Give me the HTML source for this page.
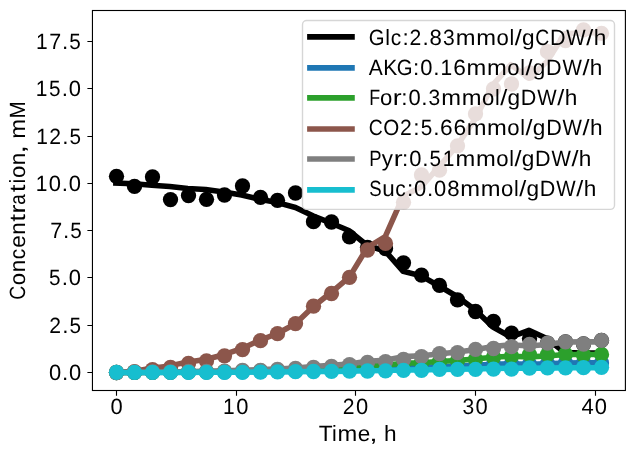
<!DOCTYPE html>
<html><head><meta charset="utf-8"><style>html,body{margin:0;padding:0;background:#fff;}svg{display:block;will-change:transform;}text{font-family:"Liberation Sans",sans-serif;text-rendering:geometricPrecision;}</style></head>
<body><svg width="634" height="455" viewBox="0 0 634 455" font-family="Liberation Sans, sans-serif">
<rect width="634" height="455" fill="#fff"/>
<defs><clipPath id="ax"><rect x="92.45" y="10.5" width="532.95" height="380"/></clipPath></defs><g clip-path="url(#ax)"><polyline points="115.90,183.10 133.86,183.70 151.81,185.20 169.77,186.40 187.72,188.40 205.68,189.60 223.63,192.00 241.59,195.00 259.54,199.20 277.50,202.60 295.45,207.50 313.41,216.10 331.36,223.20 349.32,230.80 367.27,245.50 385.23,251.00 403.18,271.30 421.13,275.90 439.09,286.00 457.05,296.50 475.00,309.80 492.96,327.00 510.91,337.00 528.87,330.30 546.82,338.50 564.77,352.50 582.73,353.00 600.69,353.00" fill="none" stroke="#000000" stroke-width="5.56" stroke-linejoin="round" stroke-linecap="square"/><g fill="#000000"><circle cx="116.50" cy="176.30" r="7.65"/><circle cx="134.50" cy="186.40" r="7.65"/><circle cx="152.50" cy="177.00" r="7.65"/><circle cx="170.50" cy="199.60" r="7.65"/><circle cx="188.50" cy="195.60" r="7.65"/><circle cx="206.50" cy="199.30" r="7.65"/><circle cx="224.50" cy="195.00" r="7.65"/><circle cx="242.50" cy="186.00" r="7.65"/><circle cx="260.50" cy="197.30" r="7.65"/><circle cx="277.50" cy="200.30" r="7.65"/><circle cx="295.50" cy="193.00" r="7.65"/><circle cx="313.50" cy="221.70" r="7.65"/><circle cx="331.50" cy="222.00" r="7.65"/><circle cx="349.50" cy="236.80" r="7.65"/><circle cx="367.50" cy="247.40" r="7.65"/><circle cx="385.50" cy="248.60" r="7.65"/><circle cx="403.50" cy="262.80" r="7.65"/><circle cx="421.50" cy="275.10" r="7.65"/><circle cx="439.50" cy="285.40" r="7.65"/><circle cx="457.50" cy="299.80" r="7.65"/><circle cx="475.50" cy="311.50" r="7.65"/><circle cx="493.50" cy="321.40" r="7.65"/><circle cx="511.50" cy="333.20" r="7.65"/><circle cx="529.50" cy="338.50" r="7.65"/><circle cx="547.50" cy="343.20" r="7.65"/><circle cx="565.50" cy="341.90" r="7.65"/><circle cx="583.50" cy="344.00" r="7.65"/><circle cx="601.50" cy="340.40" r="7.65"/></g><polyline points="115.90,372.50 133.86,372.47 151.81,372.38 169.77,372.31 187.72,372.20 205.68,372.13 223.63,372.00 241.59,371.83 259.54,371.59 277.50,371.40 295.45,371.12 313.41,370.63 331.36,370.23 349.32,369.80 367.27,368.97 385.23,368.66 403.18,367.51 421.13,367.25 439.09,366.68 457.05,366.09 475.00,365.34 492.96,364.36 510.91,363.80 528.87,364.18 546.82,363.71 564.77,362.92 582.73,362.89 600.69,362.89" fill="none" stroke="#1f77b4" stroke-width="5.56" stroke-linejoin="round" stroke-linecap="square"/><g fill="#1f77b4"><circle cx="116.50" cy="372.50" r="7.65"/><circle cx="134.50" cy="372.47" r="7.65"/><circle cx="152.50" cy="372.38" r="7.65"/><circle cx="170.50" cy="372.31" r="7.65"/><circle cx="188.50" cy="372.20" r="7.65"/><circle cx="206.50" cy="372.13" r="7.65"/><circle cx="224.50" cy="372.00" r="7.65"/><circle cx="242.50" cy="371.83" r="7.65"/><circle cx="260.50" cy="371.59" r="7.65"/><circle cx="277.50" cy="371.40" r="7.65"/><circle cx="295.50" cy="371.12" r="7.65"/><circle cx="313.50" cy="370.63" r="7.65"/><circle cx="331.50" cy="370.23" r="7.65"/><circle cx="349.50" cy="369.80" r="7.65"/><circle cx="367.50" cy="368.97" r="7.65"/><circle cx="385.50" cy="368.66" r="7.65"/><circle cx="403.50" cy="367.51" r="7.65"/><circle cx="421.50" cy="367.25" r="7.65"/><circle cx="439.50" cy="366.68" r="7.65"/><circle cx="457.50" cy="366.09" r="7.65"/><circle cx="475.50" cy="365.34" r="7.65"/><circle cx="493.50" cy="364.36" r="7.65"/><circle cx="511.50" cy="363.80" r="7.65"/><circle cx="529.50" cy="364.18" r="7.65"/><circle cx="547.50" cy="363.71" r="7.65"/><circle cx="565.50" cy="362.92" r="7.65"/><circle cx="583.50" cy="362.89" r="7.65"/><circle cx="601.50" cy="362.89" r="7.65"/></g><polyline points="115.90,372.50 133.86,372.44 151.81,372.28 169.77,372.15 187.72,371.94 205.68,371.81 223.63,371.56 241.59,371.24 259.54,370.79 277.50,370.43 295.45,369.91 313.41,369.00 331.36,368.25 349.32,367.44 367.27,365.89 385.23,365.30 403.18,363.15 421.13,362.66 439.09,361.59 457.05,360.48 475.00,359.07 492.96,357.25 510.91,356.19 528.87,356.90 546.82,356.03 564.77,354.54 582.73,354.49 600.69,354.49" fill="none" stroke="#2ca02c" stroke-width="5.56" stroke-linejoin="round" stroke-linecap="square"/><g fill="#2ca02c"><circle cx="116.50" cy="372.50" r="7.65"/><circle cx="134.50" cy="372.44" r="7.65"/><circle cx="152.50" cy="372.28" r="7.65"/><circle cx="170.50" cy="372.15" r="7.65"/><circle cx="188.50" cy="371.94" r="7.65"/><circle cx="206.50" cy="371.81" r="7.65"/><circle cx="224.50" cy="371.56" r="7.65"/><circle cx="242.50" cy="371.24" r="7.65"/><circle cx="260.50" cy="370.79" r="7.65"/><circle cx="277.50" cy="370.43" r="7.65"/><circle cx="295.50" cy="369.91" r="7.65"/><circle cx="313.50" cy="369.00" r="7.65"/><circle cx="331.50" cy="368.25" r="7.65"/><circle cx="349.50" cy="367.44" r="7.65"/><circle cx="367.50" cy="365.89" r="7.65"/><circle cx="385.50" cy="365.30" r="7.65"/><circle cx="403.50" cy="363.15" r="7.65"/><circle cx="421.50" cy="362.66" r="7.65"/><circle cx="439.50" cy="361.59" r="7.65"/><circle cx="457.50" cy="360.48" r="7.65"/><circle cx="475.50" cy="359.07" r="7.65"/><circle cx="493.50" cy="357.25" r="7.65"/><circle cx="511.50" cy="356.19" r="7.65"/><circle cx="529.50" cy="354.70" r="7.65"/><circle cx="547.50" cy="354.70" r="7.65"/><circle cx="565.50" cy="354.20" r="7.65"/><circle cx="583.50" cy="355.00" r="7.65"/><circle cx="601.50" cy="354.40" r="7.65"/></g><polyline points="115.90,372.50 133.86,371.30 151.81,368.30 169.77,365.90 187.72,361.90 205.68,359.50 223.63,354.70 241.59,348.70 259.54,340.30 277.50,333.50 295.45,323.70 313.41,306.50 331.36,292.30 349.32,277.10 367.27,247.70 385.23,236.70 403.18,196.10 421.13,186.90 439.09,166.70 457.05,145.70 475.00,119.10 492.96,84.70 510.91,64.70 528.87,78.10 546.82,61.70 564.77,33.70 582.73,32.70 600.69,32.70" fill="none" stroke="#8c564b" stroke-width="5.56" stroke-linejoin="round" stroke-linecap="square"/><g fill="#8c564b"><circle cx="116.50" cy="372.50" r="7.65"/><circle cx="134.50" cy="371.60" r="7.65"/><circle cx="152.50" cy="369.70" r="7.65"/><circle cx="170.50" cy="367.50" r="7.65"/><circle cx="188.50" cy="363.40" r="7.65"/><circle cx="206.50" cy="360.90" r="7.65"/><circle cx="224.50" cy="355.80" r="7.65"/><circle cx="242.50" cy="349.60" r="7.65"/><circle cx="260.50" cy="340.70" r="7.65"/><circle cx="277.50" cy="333.70" r="7.65"/><circle cx="295.50" cy="323.60" r="7.65"/><circle cx="313.50" cy="306.20" r="7.65"/><circle cx="331.50" cy="293.50" r="7.65"/><circle cx="349.50" cy="277.30" r="7.65"/><circle cx="367.50" cy="250.00" r="7.65"/><circle cx="385.50" cy="243.40" r="7.65"/><circle cx="403.50" cy="202.30" r="7.65"/><circle cx="421.50" cy="175.00" r="7.65"/><circle cx="439.50" cy="170.20" r="7.65"/><circle cx="457.50" cy="145.80" r="7.65"/><circle cx="475.50" cy="113.80" r="7.65"/><circle cx="493.50" cy="89.00" r="7.65"/><circle cx="511.50" cy="84.00" r="7.65"/><circle cx="529.50" cy="73.00" r="7.65"/><circle cx="547.50" cy="51.70" r="7.65"/><circle cx="565.50" cy="40.70" r="7.65"/><circle cx="583.50" cy="29.80" r="7.65"/><circle cx="601.50" cy="33.30" r="7.65"/></g><polyline points="115.90,372.50 133.86,372.39 151.81,372.12 169.77,371.91 187.72,371.54 205.68,371.33 223.63,370.90 241.59,370.36 259.54,369.60 277.50,368.99 295.45,368.10 313.41,366.55 331.36,365.27 349.32,363.90 367.27,361.25 385.23,360.26 403.18,356.61 421.13,355.78 439.09,353.96 457.05,352.06 475.00,349.67 492.96,346.57 510.91,344.77 528.87,345.97 546.82,344.50 564.77,341.97 582.73,341.88 600.69,341.88" fill="none" stroke="#7f7f7f" stroke-width="5.56" stroke-linejoin="round" stroke-linecap="square"/><g fill="#7f7f7f"><circle cx="116.50" cy="372.50" r="7.65"/><circle cx="134.50" cy="372.20" r="7.65"/><circle cx="152.50" cy="372.00" r="7.65"/><circle cx="170.50" cy="371.80" r="7.65"/><circle cx="188.50" cy="371.50" r="7.65"/><circle cx="206.50" cy="371.40" r="7.65"/><circle cx="224.50" cy="371.10" r="7.65"/><circle cx="242.50" cy="370.50" r="7.65"/><circle cx="260.50" cy="370.50" r="7.65"/><circle cx="277.50" cy="369.50" r="7.65"/><circle cx="295.50" cy="368.40" r="7.65"/><circle cx="313.50" cy="367.40" r="7.65"/><circle cx="331.50" cy="366.30" r="7.65"/><circle cx="349.50" cy="364.60" r="7.65"/><circle cx="367.50" cy="362.40" r="7.65"/><circle cx="385.50" cy="361.60" r="7.65"/><circle cx="403.50" cy="359.50" r="7.65"/><circle cx="421.50" cy="356.60" r="7.65"/><circle cx="439.50" cy="353.60" r="7.65"/><circle cx="457.50" cy="352.60" r="7.65"/><circle cx="475.50" cy="349.40" r="7.65"/><circle cx="493.50" cy="348.50" r="7.65"/><circle cx="511.50" cy="346.70" r="7.65"/><circle cx="529.50" cy="344.40" r="7.65"/><circle cx="547.50" cy="343.20" r="7.65"/><circle cx="565.50" cy="341.90" r="7.65"/><circle cx="583.50" cy="344.00" r="7.65"/><circle cx="601.50" cy="340.40" r="7.65"/></g><polyline points="115.90,372.50 133.86,372.48 151.81,372.44 169.77,372.41 187.72,372.35 205.68,372.32 223.63,372.25 241.59,372.16 259.54,372.04 277.50,371.95 295.45,371.81 313.41,371.57 331.36,371.37 349.32,371.15 367.27,370.74 385.23,370.58 403.18,370.01 421.13,369.88 439.09,369.59 457.05,369.29 475.00,368.92 492.96,368.43 510.91,368.15 528.87,368.34 546.82,368.11 564.77,367.71 582.73,367.70 600.69,367.70" fill="none" stroke="#17becf" stroke-width="5.56" stroke-linejoin="round" stroke-linecap="square"/><g fill="#17becf"><circle cx="116.50" cy="372.30" r="7.65"/><circle cx="134.50" cy="372.30" r="7.65"/><circle cx="152.50" cy="372.30" r="7.65"/><circle cx="170.50" cy="372.30" r="7.65"/><circle cx="188.50" cy="372.30" r="7.65"/><circle cx="206.50" cy="372.30" r="7.65"/><circle cx="224.50" cy="372.30" r="7.65"/><circle cx="242.50" cy="372.30" r="7.65"/><circle cx="260.50" cy="372.10" r="7.65"/><circle cx="277.50" cy="371.90" r="7.65"/><circle cx="295.50" cy="371.70" r="7.65"/><circle cx="313.50" cy="371.50" r="7.65"/><circle cx="331.50" cy="371.40" r="7.65"/><circle cx="349.50" cy="371.00" r="7.65"/><circle cx="367.50" cy="371.00" r="7.65"/><circle cx="385.50" cy="370.90" r="7.65"/><circle cx="403.50" cy="370.40" r="7.65"/><circle cx="421.50" cy="370.40" r="7.65"/><circle cx="439.50" cy="369.40" r="7.65"/><circle cx="457.50" cy="369.30" r="7.65"/><circle cx="475.50" cy="369.30" r="7.65"/><circle cx="493.50" cy="369.20" r="7.65"/><circle cx="511.50" cy="369.20" r="7.65"/><circle cx="529.50" cy="368.00" r="7.65"/><circle cx="547.50" cy="367.80" r="7.65"/><circle cx="565.50" cy="367.80" r="7.65"/><circle cx="583.50" cy="367.70" r="7.65"/><circle cx="601.50" cy="367.30" r="7.65"/></g></g><rect x="92.45" y="10.5" width="532.95" height="380" fill="none" stroke="#000" stroke-width="1.11" stroke-linecap="square"/><path d="M116.50,390.5V395.8 M236.50,390.5V395.8 M355.50,390.5V395.8 M475.50,390.5V395.8 M595.50,390.5V395.8 M92.45,372.50H87.4 M92.45,325.50H87.4 M92.45,277.50H87.4 M92.45,230.50H87.4 M92.45,183.50H87.4 M92.45,136.50H87.4 M92.45,88.50H87.4 M92.45,41.50H87.4" stroke="#000" stroke-width="1.11" fill="none"/>
<text y="414.40" font-size="22.07" fill="#000"><tspan x="110.49" textLength="12.21" lengthAdjust="spacingAndGlyphs">0</tspan></text><text y="414.40" font-size="22.07" fill="#000"><tspan x="223.02" textLength="11.67" lengthAdjust="spacingAndGlyphs">1</tspan><tspan x="236.13" textLength="12.21" lengthAdjust="spacingAndGlyphs">0</tspan></text><text y="414.40" font-size="22.07" fill="#000"><tspan x="342.77" textLength="11.77" lengthAdjust="spacingAndGlyphs">2</tspan><tspan x="356.11" textLength="12.21" lengthAdjust="spacingAndGlyphs">0</tspan></text><text y="414.40" font-size="22.07" fill="#000"><tspan x="462.41" textLength="11.73" lengthAdjust="spacingAndGlyphs">3</tspan><tspan x="475.43" textLength="12.21" lengthAdjust="spacingAndGlyphs">0</tspan></text><text y="414.40" font-size="22.07" fill="#000"><tspan x="581.58" textLength="12.22" lengthAdjust="spacingAndGlyphs">4</tspan><tspan x="594.86" textLength="12.21" lengthAdjust="spacingAndGlyphs">0</tspan></text><text y="379.70" font-size="22.07" fill="#000"><tspan x="48.96" textLength="12.21" lengthAdjust="spacingAndGlyphs">0</tspan><tspan x="61.90" textLength="6.26" lengthAdjust="spacingAndGlyphs">.</tspan><tspan x="68.88" textLength="12.21" lengthAdjust="spacingAndGlyphs">0</tspan></text><text y="332.70" font-size="22.07" fill="#000"><tspan x="49.21" textLength="11.77" lengthAdjust="spacingAndGlyphs">2</tspan><tspan x="62.20" textLength="6.26" lengthAdjust="spacingAndGlyphs">.</tspan><tspan x="69.44" textLength="11.53" lengthAdjust="spacingAndGlyphs">5</tspan></text><text y="284.70" font-size="22.07" fill="#000"><tspan x="49.09" textLength="11.53" lengthAdjust="spacingAndGlyphs">5</tspan><tspan x="61.76" textLength="6.26" lengthAdjust="spacingAndGlyphs">.</tspan><tspan x="68.74" textLength="12.21" lengthAdjust="spacingAndGlyphs">0</tspan></text><text y="237.70" font-size="22.07" fill="#000"><tspan x="50.13" textLength="11.95" lengthAdjust="spacingAndGlyphs">7</tspan><tspan x="62.97" textLength="6.26" lengthAdjust="spacingAndGlyphs">.</tspan><tspan x="70.21" textLength="11.53" lengthAdjust="spacingAndGlyphs">5</tspan></text><text y="190.70" font-size="22.07" fill="#000"><tspan x="35.74" textLength="11.67" lengthAdjust="spacingAndGlyphs">1</tspan><tspan x="48.85" textLength="12.21" lengthAdjust="spacingAndGlyphs">0</tspan><tspan x="61.78" textLength="6.26" lengthAdjust="spacingAndGlyphs">.</tspan><tspan x="68.76" textLength="12.21" lengthAdjust="spacingAndGlyphs">0</tspan></text><text y="143.70" font-size="22.07" fill="#000"><tspan x="36.16" textLength="11.67" lengthAdjust="spacingAndGlyphs">1</tspan><tspan x="49.21" textLength="11.77" lengthAdjust="spacingAndGlyphs">2</tspan><tspan x="62.20" textLength="6.26" lengthAdjust="spacingAndGlyphs">.</tspan><tspan x="69.44" textLength="11.53" lengthAdjust="spacingAndGlyphs">5</tspan></text><text y="95.70" font-size="22.07" fill="#000"><tspan x="35.72" textLength="11.67" lengthAdjust="spacingAndGlyphs">1</tspan><tspan x="49.09" textLength="11.53" lengthAdjust="spacingAndGlyphs">5</tspan><tspan x="61.76" textLength="6.26" lengthAdjust="spacingAndGlyphs">.</tspan><tspan x="68.74" textLength="12.21" lengthAdjust="spacingAndGlyphs">0</tspan></text><text y="48.70" font-size="22.07" fill="#000"><tspan x="35.93" textLength="11.67" lengthAdjust="spacingAndGlyphs">1</tspan><tspan x="49.13" textLength="11.95" lengthAdjust="spacingAndGlyphs">7</tspan><tspan x="61.97" textLength="6.26" lengthAdjust="spacingAndGlyphs">.</tspan><tspan x="69.22" textLength="11.53" lengthAdjust="spacingAndGlyphs">5</tspan></text><text y="440.55" font-size="22.07" fill="#000"><tspan x="318.73" textLength="13.88" lengthAdjust="spacingAndGlyphs">T</tspan><tspan x="331.97" textLength="4.73" lengthAdjust="spacingAndGlyphs">i</tspan><tspan x="337.54" textLength="19.77" lengthAdjust="spacingAndGlyphs">m</tspan><tspan x="357.76" textLength="12.51" lengthAdjust="spacingAndGlyphs">e</tspan><tspan x="369.28" textLength="8.44" lengthAdjust="spacingAndGlyphs">,</tspan><tspan x="383.72"> </tspan><tspan x="384.00" textLength="12.58" lengthAdjust="spacingAndGlyphs">h</tspan></text><text transform="translate(24.70,299.10) rotate(-90)" y="0.00" font-size="22.07" fill="#000"><tspan x="-0.71" textLength="13.97" lengthAdjust="spacingAndGlyphs">C</tspan><tspan x="13.90" textLength="12.32" lengthAdjust="spacingAndGlyphs">o</tspan><tspan x="26.85" textLength="12.49" lengthAdjust="spacingAndGlyphs">n</tspan><tspan x="39.94" textLength="10.45" lengthAdjust="spacingAndGlyphs">c</tspan><tspan x="51.35" textLength="12.51" lengthAdjust="spacingAndGlyphs">e</tspan><tspan x="64.40" textLength="12.49" lengthAdjust="spacingAndGlyphs">n</tspan><tspan x="77.37" textLength="7.74" lengthAdjust="spacingAndGlyphs">t</tspan><tspan x="85.54" textLength="8.89" lengthAdjust="spacingAndGlyphs">r</tspan><tspan x="94.46" textLength="10.42" lengthAdjust="spacingAndGlyphs">a</tspan><tspan x="106.93" textLength="7.74" lengthAdjust="spacingAndGlyphs">t</tspan><tspan x="115.52" textLength="4.73" lengthAdjust="spacingAndGlyphs">i</tspan><tspan x="121.00" textLength="12.32" lengthAdjust="spacingAndGlyphs">o</tspan><tspan x="133.95" textLength="12.49" lengthAdjust="spacingAndGlyphs">n</tspan><tspan x="145.66" textLength="8.44" lengthAdjust="spacingAndGlyphs">,</tspan><tspan x="160.10"> </tspan><tspan x="160.37" textLength="19.77" lengthAdjust="spacingAndGlyphs">m</tspan><tspan x="180.73" textLength="17.30" lengthAdjust="spacingAndGlyphs">M</tspan></text>
<rect x="302.5" y="20.5" width="312.0" height="188.9" rx="4.17" ry="4.17" fill="#fff" fill-opacity="0.8" stroke="#cccccc" stroke-opacity="0.8" stroke-width="1.39"/><path d="M309.9,36.9H352.0" stroke="#000000" stroke-width="5.56" stroke-linecap="square"/><text y="44.60" font-size="22.07" fill="#000"><tspan x="368.75" textLength="15.80" lengthAdjust="spacingAndGlyphs">G</tspan><tspan x="385.30" textLength="4.73" lengthAdjust="spacingAndGlyphs">l</tspan><tspan x="390.84" textLength="10.45" lengthAdjust="spacingAndGlyphs">c</tspan><tspan x="402.44" textLength="6.26" lengthAdjust="spacingAndGlyphs">:</tspan><tspan x="409.55" textLength="11.77" lengthAdjust="spacingAndGlyphs">2</tspan><tspan x="422.54" textLength="6.26" lengthAdjust="spacingAndGlyphs">.</tspan><tspan x="429.45" textLength="12.35" lengthAdjust="spacingAndGlyphs">8</tspan><tspan x="443.07" textLength="11.73" lengthAdjust="spacingAndGlyphs">3</tspan><tspan x="455.88" textLength="19.77" lengthAdjust="spacingAndGlyphs">m</tspan><tspan x="476.22" textLength="19.77" lengthAdjust="spacingAndGlyphs">m</tspan><tspan x="496.45" textLength="12.32" lengthAdjust="spacingAndGlyphs">o</tspan><tspan x="509.54" textLength="4.73" lengthAdjust="spacingAndGlyphs">l</tspan><tspan x="514.81" textLength="7.02" lengthAdjust="spacingAndGlyphs">/</tspan><tspan x="522.04" textLength="12.59" lengthAdjust="spacingAndGlyphs">g</tspan><tspan x="535.28" textLength="13.97" lengthAdjust="spacingAndGlyphs">C</tspan><tspan x="549.94" textLength="15.57" lengthAdjust="spacingAndGlyphs">D</tspan><tspan x="566.34" textLength="19.39" lengthAdjust="spacingAndGlyphs">W</tspan><tspan x="586.38" textLength="7.02" lengthAdjust="spacingAndGlyphs">/</tspan><tspan x="593.74" textLength="12.58" lengthAdjust="spacingAndGlyphs">h</tspan></text><path d="M309.9,67.9H352.0" stroke="#1f77b4" stroke-width="5.56" stroke-linecap="square"/><text y="74.50" font-size="22.07" fill="#000"><tspan x="368.72" textLength="14.00" lengthAdjust="spacingAndGlyphs">A</tspan><tspan x="383.20" textLength="14.01" lengthAdjust="spacingAndGlyphs">K</tspan><tspan x="396.72" textLength="15.80" lengthAdjust="spacingAndGlyphs">G</tspan><tspan x="413.13" textLength="6.26" lengthAdjust="spacingAndGlyphs">:</tspan><tspan x="420.29" textLength="12.21" lengthAdjust="spacingAndGlyphs">0</tspan><tspan x="433.23" textLength="6.26" lengthAdjust="spacingAndGlyphs">.</tspan><tspan x="440.39" textLength="11.67" lengthAdjust="spacingAndGlyphs">1</tspan><tspan x="453.28" textLength="12.64" lengthAdjust="spacingAndGlyphs">6</tspan><tspan x="466.57" textLength="19.77" lengthAdjust="spacingAndGlyphs">m</tspan><tspan x="486.91" textLength="19.77" lengthAdjust="spacingAndGlyphs">m</tspan><tspan x="507.15" textLength="12.32" lengthAdjust="spacingAndGlyphs">o</tspan><tspan x="520.23" textLength="4.73" lengthAdjust="spacingAndGlyphs">l</tspan><tspan x="525.50" textLength="7.02" lengthAdjust="spacingAndGlyphs">/</tspan><tspan x="532.73" textLength="12.59" lengthAdjust="spacingAndGlyphs">g</tspan><tspan x="546.06" textLength="15.57" lengthAdjust="spacingAndGlyphs">D</tspan><tspan x="562.46" textLength="19.39" lengthAdjust="spacingAndGlyphs">W</tspan><tspan x="582.50" textLength="7.02" lengthAdjust="spacingAndGlyphs">/</tspan><tspan x="589.85" textLength="12.58" lengthAdjust="spacingAndGlyphs">h</tspan></text><path d="M309.9,97.85H352.0" stroke="#2ca02c" stroke-width="5.56" stroke-linecap="square"/><text y="105.30" font-size="22.07" fill="#000"><tspan x="369.18" textLength="10.91" lengthAdjust="spacingAndGlyphs">F</tspan><tspan x="380.08" textLength="12.32" lengthAdjust="spacingAndGlyphs">o</tspan><tspan x="392.75" textLength="8.89" lengthAdjust="spacingAndGlyphs">r</tspan><tspan x="401.22" textLength="6.26" lengthAdjust="spacingAndGlyphs">:</tspan><tspan x="408.38" textLength="12.21" lengthAdjust="spacingAndGlyphs">0</tspan><tspan x="421.32" textLength="6.26" lengthAdjust="spacingAndGlyphs">.</tspan><tspan x="428.57" textLength="11.73" lengthAdjust="spacingAndGlyphs">3</tspan><tspan x="441.38" textLength="19.77" lengthAdjust="spacingAndGlyphs">m</tspan><tspan x="461.72" textLength="19.77" lengthAdjust="spacingAndGlyphs">m</tspan><tspan x="481.96" textLength="12.32" lengthAdjust="spacingAndGlyphs">o</tspan><tspan x="495.04" textLength="4.73" lengthAdjust="spacingAndGlyphs">l</tspan><tspan x="500.31" textLength="7.02" lengthAdjust="spacingAndGlyphs">/</tspan><tspan x="507.54" textLength="12.59" lengthAdjust="spacingAndGlyphs">g</tspan><tspan x="520.87" textLength="15.57" lengthAdjust="spacingAndGlyphs">D</tspan><tspan x="537.27" textLength="19.39" lengthAdjust="spacingAndGlyphs">W</tspan><tspan x="557.31" textLength="7.02" lengthAdjust="spacingAndGlyphs">/</tspan><tspan x="564.66" textLength="12.58" lengthAdjust="spacingAndGlyphs">h</tspan></text><path d="M309.9,129.0H352.0" stroke="#8c564b" stroke-width="5.56" stroke-linecap="square"/><text y="135.40" font-size="22.07" fill="#000"><tspan x="368.79" textLength="13.97" lengthAdjust="spacingAndGlyphs">C</tspan><tspan x="383.37" textLength="16.02" lengthAdjust="spacingAndGlyphs">O</tspan><tspan x="400.07" textLength="11.77" lengthAdjust="spacingAndGlyphs">2</tspan><tspan x="413.27" textLength="6.26" lengthAdjust="spacingAndGlyphs">:</tspan><tspan x="420.70" textLength="11.53" lengthAdjust="spacingAndGlyphs">5</tspan><tspan x="433.37" textLength="6.26" lengthAdjust="spacingAndGlyphs">.</tspan><tspan x="440.14" textLength="12.64" lengthAdjust="spacingAndGlyphs">6</tspan><tspan x="453.42" textLength="12.64" lengthAdjust="spacingAndGlyphs">6</tspan><tspan x="466.72" textLength="19.77" lengthAdjust="spacingAndGlyphs">m</tspan><tspan x="487.05" textLength="19.77" lengthAdjust="spacingAndGlyphs">m</tspan><tspan x="507.29" textLength="12.32" lengthAdjust="spacingAndGlyphs">o</tspan><tspan x="520.37" textLength="4.73" lengthAdjust="spacingAndGlyphs">l</tspan><tspan x="525.64" textLength="7.02" lengthAdjust="spacingAndGlyphs">/</tspan><tspan x="532.87" textLength="12.59" lengthAdjust="spacingAndGlyphs">g</tspan><tspan x="546.20" textLength="15.57" lengthAdjust="spacingAndGlyphs">D</tspan><tspan x="562.60" textLength="19.39" lengthAdjust="spacingAndGlyphs">W</tspan><tspan x="582.64" textLength="7.02" lengthAdjust="spacingAndGlyphs">/</tspan><tspan x="590.00" textLength="12.58" lengthAdjust="spacingAndGlyphs">h</tspan></text><path d="M309.9,159.0H352.0" stroke="#7f7f7f" stroke-width="5.56" stroke-linecap="square"/><text y="165.60" font-size="22.07" fill="#000"><tspan x="369.13" textLength="12.29" lengthAdjust="spacingAndGlyphs">P</tspan><tspan x="381.75" textLength="11.19" lengthAdjust="spacingAndGlyphs">y</tspan><tspan x="393.66" textLength="8.89" lengthAdjust="spacingAndGlyphs">r</tspan><tspan x="402.13" textLength="6.26" lengthAdjust="spacingAndGlyphs">:</tspan><tspan x="409.30" textLength="12.21" lengthAdjust="spacingAndGlyphs">0</tspan><tspan x="422.23" textLength="6.26" lengthAdjust="spacingAndGlyphs">.</tspan><tspan x="429.48" textLength="11.53" lengthAdjust="spacingAndGlyphs">5</tspan><tspan x="442.67" textLength="11.67" lengthAdjust="spacingAndGlyphs">1</tspan><tspan x="455.58" textLength="19.77" lengthAdjust="spacingAndGlyphs">m</tspan><tspan x="475.91" textLength="19.77" lengthAdjust="spacingAndGlyphs">m</tspan><tspan x="496.15" textLength="12.32" lengthAdjust="spacingAndGlyphs">o</tspan><tspan x="509.23" textLength="4.73" lengthAdjust="spacingAndGlyphs">l</tspan><tspan x="514.50" textLength="7.02" lengthAdjust="spacingAndGlyphs">/</tspan><tspan x="521.73" textLength="12.59" lengthAdjust="spacingAndGlyphs">g</tspan><tspan x="535.06" textLength="15.57" lengthAdjust="spacingAndGlyphs">D</tspan><tspan x="551.46" textLength="19.39" lengthAdjust="spacingAndGlyphs">W</tspan><tspan x="571.50" textLength="7.02" lengthAdjust="spacingAndGlyphs">/</tspan><tspan x="578.86" textLength="12.58" lengthAdjust="spacingAndGlyphs">h</tspan></text><path d="M309.9,189.9H352.0" stroke="#17becf" stroke-width="5.56" stroke-linecap="square"/><text y="196.40" font-size="22.07" fill="#000"><tspan x="369.13" textLength="12.39" lengthAdjust="spacingAndGlyphs">S</tspan><tspan x="382.16" textLength="12.49" lengthAdjust="spacingAndGlyphs">u</tspan><tspan x="395.34" textLength="10.45" lengthAdjust="spacingAndGlyphs">c</tspan><tspan x="406.94" textLength="6.26" lengthAdjust="spacingAndGlyphs">:</tspan><tspan x="414.11" textLength="12.21" lengthAdjust="spacingAndGlyphs">0</tspan><tspan x="427.04" textLength="6.26" lengthAdjust="spacingAndGlyphs">.</tspan><tspan x="434.02" textLength="12.21" lengthAdjust="spacingAndGlyphs">0</tspan><tspan x="447.24" textLength="12.35" lengthAdjust="spacingAndGlyphs">8</tspan><tspan x="460.39" textLength="19.77" lengthAdjust="spacingAndGlyphs">m</tspan><tspan x="480.72" textLength="19.77" lengthAdjust="spacingAndGlyphs">m</tspan><tspan x="500.96" textLength="12.32" lengthAdjust="spacingAndGlyphs">o</tspan><tspan x="514.04" textLength="4.73" lengthAdjust="spacingAndGlyphs">l</tspan><tspan x="519.31" textLength="7.02" lengthAdjust="spacingAndGlyphs">/</tspan><tspan x="526.54" textLength="12.59" lengthAdjust="spacingAndGlyphs">g</tspan><tspan x="539.87" textLength="15.57" lengthAdjust="spacingAndGlyphs">D</tspan><tspan x="556.27" textLength="19.39" lengthAdjust="spacingAndGlyphs">W</tspan><tspan x="576.31" textLength="7.02" lengthAdjust="spacingAndGlyphs">/</tspan><tspan x="583.67" textLength="12.58" lengthAdjust="spacingAndGlyphs">h</tspan></text>
</svg></body></html>
